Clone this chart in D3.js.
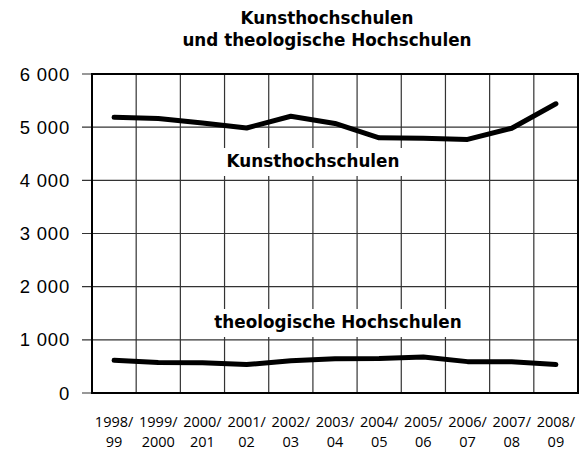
<!DOCTYPE html>
<html>
<head>
<meta charset="utf-8">
<script src="https://cdn.jsdelivr.net/npm/d3@7"></script>
<style>
  body { margin: 0; background: #fff; }
  svg { display: block; }
</style>
</head>
<body>
<svg id="chart" width="588" height="453"></svg>
<script>
// Data
const years = ['1998/99', '1999/2000', '2000/201', '2001/02', '2002/03', '2003/04',
  '2004/05', '2005/06', '2006/07', '2007/08', '2008/09'];
const kunst = [5185, 5165, 5080, 4985, 5205, 5070, 4800, 4790, 4770, 4980, 5440];
const theol = [615, 575, 570, 535, 605, 645, 650, 675, 590, 590, 535];
const yTicks = [0, 1000, 2000, 3000, 4000, 5000, 6000];

const titleLines = ['Kunsthochschulen', 'und theologische Hochschulen'];

const svg = d3.select('#chart');
const plotLeft = 92, plotRight = 578, plotTop = 74, plotBottom = 393;
const boldFont = '"DejaVu Sans", sans-serif';

const x = d3.scaleBand().domain(years).range([plotLeft, plotRight]).paddingInner(0).paddingOuter(0);
const y = d3.scaleLinear().domain([0, 6000]).range([plotBottom, plotTop]);
const fmt = v => d3.format(',')(v).replace(',', ' ');

// title
svg.append('text')
  .attr('x', 328)
  .attr('y', 24)
  .attr('text-anchor', 'middle')
  .style('font-family', boldFont)
  .style('font-weight', 'bold')
  .style('font-size', '16.8px')
  .selectAll('tspan')
  .data(titleLines)
  .join('tspan')
  .attr('x', 327)
  .attr('dy', (d, i) => i === 0 ? 0 : 22)
  .text(d => d);

// horizontal gridlines + ticks
svg.append('g')
  .selectAll('line')
  .data(yTicks)
  .join('line')
  .attr('x1', plotLeft - 10)
  .attr('x2', plotRight)
  .attr('y1', d => y(d))
  .attr('y2', d => y(d))
  .attr('stroke', '#333')
  .attr('stroke-width', 1.2);

// vertical gridlines
svg.append('g')
  .selectAll('line')
  .data(years.slice(1))
  .join('line')
  .attr('x1', d => x(d))
  .attr('x2', d => x(d))
  .attr('y1', plotTop)
  .attr('y2', plotBottom)
  .attr('stroke', '#333')
  .attr('stroke-width', 1.2);

// y labels
svg.append('g')
  .selectAll('text')
  .data(yTicks)
  .join('text')
  .attr('x', 70)
  .attr('y', d => y(d) + 6.5)
  .attr('text-anchor', 'end')
  .style('font-family', '"Liberation Sans", Arial, sans-serif')
  .style('font-size', '18.5px')
  .style('letter-spacing', '0.8px')
  .text(d => fmt(d));

// x labels (two lines)
const xl = svg.append('g')
  .selectAll('text')
  .data(years)
  .join('text')
  .attr('text-anchor', 'middle')
  .style('font-family', '"Open Sans", sans-serif')
  .style('font-size', '14.5px');
xl.append('tspan')
  .attr('x', d => x(d) + x.bandwidth() / 2)
  .attr('y', 427)
  .text(d => d.split('/')[0] + '/');
xl.append('tspan')
  .attr('x', d => x(d) + x.bandwidth() / 2)
  .attr('y', 447)
  .text(d => d.split('/')[1]);

// inline series labels with white boxes
function seriesLabel(text, cx, baseline) {
  const g = svg.append('g');
  const rect = g.append('rect').attr('fill', '#fff');
  const t = g.append('text')
    .attr('x', cx)
    .attr('y', baseline)
    .attr('text-anchor', 'middle')
    .style('font-family', boldFont)
    .style('font-weight', 'bold')
    .style('font-size', '16.8px')
    .text(text);
  const b = t.node().getBBox();
  rect.attr('x', b.x - 7).attr('y', baseline - 19)
    .attr('width', b.width + 14).attr('height', 28);
}
seriesLabel('Kunsthochschulen', 313, 167);
seriesLabel('theologische Hochschulen', 338, 328);

// lines
const line = d3.line()
  .x((d, i) => x(years[i]) + x.bandwidth() / 2)
  .y(d => y(d));

[kunst, theol].forEach(series => {
  svg.append('path')
    .datum(series)
    .attr('d', line)
    .attr('fill', 'none')
    .attr('stroke', '#000')
    .attr('stroke-width', 5)
    .attr('stroke-linecap', 'round')
    .attr('stroke-linejoin', 'round');
});

// frame
svg.append('rect')
  .attr('x', plotLeft)
  .attr('y', plotTop)
  .attr('width', plotRight - plotLeft)
  .attr('height', plotBottom - plotTop)
  .attr('fill', 'none')
  .attr('stroke', '#000')
  .attr('stroke-width', 2);
</script>
</body>
</html>
